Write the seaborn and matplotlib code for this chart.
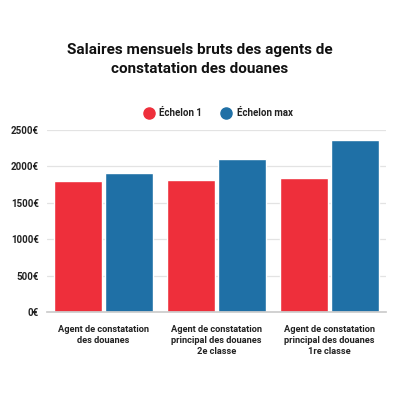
import matplotlib
matplotlib.use('Agg')
import matplotlib.pyplot as plt
import seaborn as sns
import pandas as pd
from matplotlib.lines import Line2D

categories = ['Agent de constatation\ndes douanes',
              'Agent de constatation\nprincipal des douanes\n2e classe',
              'Agent de constatation\nprincipal des douanes\n1re classe']
echelon_1 = [1803, 1810, 1836]
echelon_max = [1905, 2097, 2358]
series = ['Échelon 1', 'Échelon max']
yticks = [0, 500, 1000, 1500, 2000, 2500]

df = pd.DataFrame({
    'Poste': categories * 2,
    'Échelon': [series[0]] * 3 + [series[1]] * 3,
    'Salaire': echelon_1 + echelon_max,
})

sns.set_theme(style='white')
plt.rcParams['font.family'] = ['Roboto', 'DejaVu Sans']

colors = ['#EE2F3B', '#1F70A6']

fig = plt.figure(figsize=(4, 4), dpi=100)
ax = fig.add_axes([0.1175, 0.22, 0.8475, 0.455])

sns.barplot(data=df, x='Poste', y='Salaire', hue='Échelon', palette=colors,
            width=0.9, gap=0.05, saturation=1, ax=ax, legend=False)

ax.set_ylim(0, 2500)
ax.set_yticks(yticks)
ax.set_yticklabels([f'{v}€' for v in yticks], fontsize=7, fontweight='bold', color='#222222')
ax.tick_params(axis='x', labelsize=6.7, length=0, pad=9)
for lab in ax.get_xticklabels():
    lab.set_fontweight('bold')
    lab.set_color('#222222')
    lab.set_linespacing(1.3)
ax.tick_params(axis='y', length=0, pad=6)
ax.set_xlabel('')
ax.set_ylabel('')
ax.yaxis.grid(True, color='#E3E3E3', linewidth=0.9)
ax.set_axisbelow(True)
for s in ['top', 'right', 'left']:
    ax.spines[s].set_visible(False)
ax.spines['bottom'].set_color('#CCCCCC')

handles = [Line2D([0], [0], marker='o', linestyle='', markersize=8,
                  markerfacecolor=c, markeredgecolor=c) for c in colors]
leg = fig.legend(handles, series, loc='center', bbox_to_anchor=(0.54, 0.717), ncol=2,
                 frameon=False, fontsize=7, handletextpad=0.1, columnspacing=1.5)
for t in leg.get_texts():
    t.set_fontweight('bold')
    t.set_color('#222222')

fig.text(0.5, 0.851, 'Salaires mensuels bruts des agents de\nconstatation des douanes',
         ha='center', va='center', fontsize=11, fontweight='bold', color='#111111',
         linespacing=1.4)

fig.savefig('out.png', dpi=100, facecolor='white')
